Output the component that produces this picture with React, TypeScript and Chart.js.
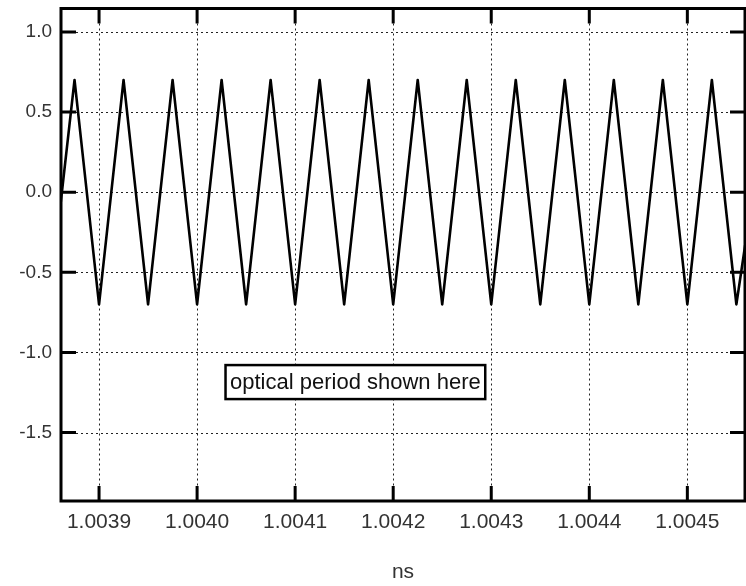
import React, { useEffect, useRef } from 'react';
import { Chart, registerables } from 'chart.js';

Chart.register(...registerables);

// ---- data ----
const X_MIN = 1.0038612;
const X_MAX = 1.0045588;
const Y_MIN = -1.927;
const Y_MAX = 1.146;

const X_TICKS = [1.0039, 1.004, 1.0041, 1.0042, 1.0043, 1.0044, 1.0045];
const Y_TICKS = [-1.5, -1.0, -0.5, 0.0, 0.5, 1.0];

// vertices of the triangle-like waveform (time in ns, amplitude)
const TIMES = [
  1.003861, 1.003875, 1.0039, 1.003925, 1.00395, 1.003975, 1.004, 1.004025,
  1.00405, 1.004075, 1.0041, 1.004125, 1.00415, 1.004175, 1.0042, 1.004225,
  1.00425, 1.004275, 1.0043, 1.004325, 1.00435, 1.004375, 1.0044, 1.004425,
  1.00445, 1.004475, 1.0045, 1.004525, 1.00455, 1.004559,
];
const VALUES = [
  -0.06, 0.7, -0.7, 0.7, -0.7, 0.7, -0.7, 0.7,
  -0.7, 0.7, -0.7, 0.7, -0.7, 0.7, -0.7, 0.7,
  -0.7, 0.7, -0.7, 0.7, -0.7, 0.7, -0.7, 0.7,
  -0.7, 0.7, -0.7, 0.7, -0.7, -0.33,
];

const X_TITLE = 'ns';
const ANNOTATION_TEXT = 'optical period shown here';
const ANNOTATION_X = 1.004029; // left edge of the box
const ANNOTATION_Y = -1.185; // vertical centre of the box

const FONT_FAMILY = '"Liberation Sans", Arial, Helvetica, sans-serif';
const TICK_LEN = 15;

const framePlugin = {
  id: 'framePlugin',
  beforeDatasetsDraw(chart: any) {
    const { ctx, chartArea, scales } = chart;
    const { left, right, top, bottom } = chartArea;
    const x = scales.x;
    const y = scales.y;
    ctx.save();
    ctx.strokeStyle = '#222';
    ctx.lineWidth = 1;
    ctx.setLineDash([2, 3]);
    for (const t of X_TICKS) {
      const px = Math.round(x.getPixelForValue(t)) + 0.5;
      ctx.beginPath();
      ctx.moveTo(px, top + TICK_LEN);
      ctx.lineTo(px, bottom - TICK_LEN);
      ctx.stroke();
    }
    for (const t of Y_TICKS) {
      const py = Math.round(y.getPixelForValue(t)) + 0.5;
      ctx.beginPath();
      ctx.moveTo(left + TICK_LEN, py);
      ctx.lineTo(right - TICK_LEN, py);
      ctx.stroke();
    }
    ctx.restore();
  },
  afterDatasetsDraw(chart: any) {
    const { ctx, chartArea, scales } = chart;
    const { left, right, top, bottom } = chartArea;
    const x = scales.x;
    const y = scales.y;
    ctx.save();
    ctx.setLineDash([]);
    ctx.strokeStyle = '#000';
    ctx.lineWidth = 3;
    ctx.strokeRect(left, top, right - left, bottom - top);
    // inward ticks on all four sides
    for (const t of X_TICKS) {
      const px = x.getPixelForValue(t);
      ctx.beginPath();
      ctx.moveTo(px, bottom);
      ctx.lineTo(px, bottom - TICK_LEN);
      ctx.moveTo(px, top);
      ctx.lineTo(px, top + TICK_LEN);
      ctx.stroke();
    }
    for (const t of Y_TICKS) {
      const py = y.getPixelForValue(t);
      ctx.beginPath();
      ctx.moveTo(left, py);
      ctx.lineTo(left + TICK_LEN, py);
      ctx.moveTo(right, py);
      ctx.lineTo(right - TICK_LEN, py);
      ctx.stroke();
    }
    // annotation box
    ctx.font = `22px ${FONT_FAMILY}`;
    const w = ctx.measureText(ANNOTATION_TEXT).width;
    const bx = x.getPixelForValue(ANNOTATION_X);
    const cy = y.getPixelForValue(ANNOTATION_Y);
    const bh = 34;
    ctx.fillStyle = '#fff';
    ctx.fillRect(bx, cy - bh / 2, w + 9, bh);
    ctx.lineWidth = 2.5;
    ctx.strokeRect(bx, cy - bh / 2, w + 9, bh);
    ctx.fillStyle = '#111';
    ctx.textBaseline = 'middle';
    ctx.textAlign = 'left';
    ctx.fillText(ANNOTATION_TEXT, bx + 4.5, cy + 1);
    ctx.restore();
  },
};

export default function App() {
  const ref = useRef<HTMLCanvasElement>(null);
  useEffect(() => {
    if (!ref.current) return;
    Chart.defaults.font.family = FONT_FAMILY;
    const points = TIMES.map((t, i) => ({ x: t, y: VALUES[i] }));
    const chart = new Chart(ref.current, {
      type: 'line',
      data: {
        datasets: [
          {
            data: points,
            borderColor: '#000',
            borderWidth: 2.6,
            pointRadius: 0,
            tension: 0,
            borderJoinStyle: 'round',
            fill: false,
          },
        ],
      },
      options: {
        responsive: false,
        animation: false,
        devicePixelRatio: 1,
        layout: { padding: { top: 8.5, right: 1, left: 0, bottom: 0 } },
        plugins: {
          legend: { display: false },
          tooltip: { enabled: false },
          title: { display: false },
        },
        scales: {
          x: {
            type: 'linear',
            min: X_MIN,
            max: X_MAX,
            grid: { display: false, drawTicks: false },
            border: { display: false },
            afterBuildTicks: (s: any) => {
              s.ticks = X_TICKS.map((v) => ({ value: v }));
            },
            afterFit: (s: any) => {
              s.height = 85;
              s.paddingLeft = 0;
              s.paddingRight = 0;
            },
            ticks: {
              autoSkip: false,
              maxRotation: 0,
              minRotation: 0,
              padding: 9,
              color: '#333',
              font: { size: 21 },
              callback: (v: any) => Number(v).toFixed(4),
            },
            title: {
              display: true,
              text: X_TITLE,
              color: '#333',
              font: { size: 21 },
              padding: { top: 0, bottom: 1 },
            },
          },
          y: {
            type: 'linear',
            min: Y_MIN,
            max: Y_MAX,
            grid: { display: false, drawTicks: false },
            border: { display: false },
            afterBuildTicks: (s: any) => {
              s.ticks = Y_TICKS.map((v) => ({ value: v }));
            },
            afterFit: (s: any) => {
              s.width = 61;
              s.paddingTop = 0;
              s.paddingBottom = 0;
            },
            ticks: {
              padding: 9,
              color: '#333',
              font: { size: 19 },
              callback: (v: any) => Number(v).toFixed(1),
            },
          },
        },
      },
      plugins: [framePlugin],
    } as any);
    return () => chart.destroy();
  }, []);
  return (
    <div style={{ position: 'absolute', left: 0, top: 0, width: 746, height: 586, background: '#fff' }}>
      <canvas ref={ref} width={746} height={586} style={{ display: 'block', width: 746, height: 586 }} />
    </div>
  );
}
